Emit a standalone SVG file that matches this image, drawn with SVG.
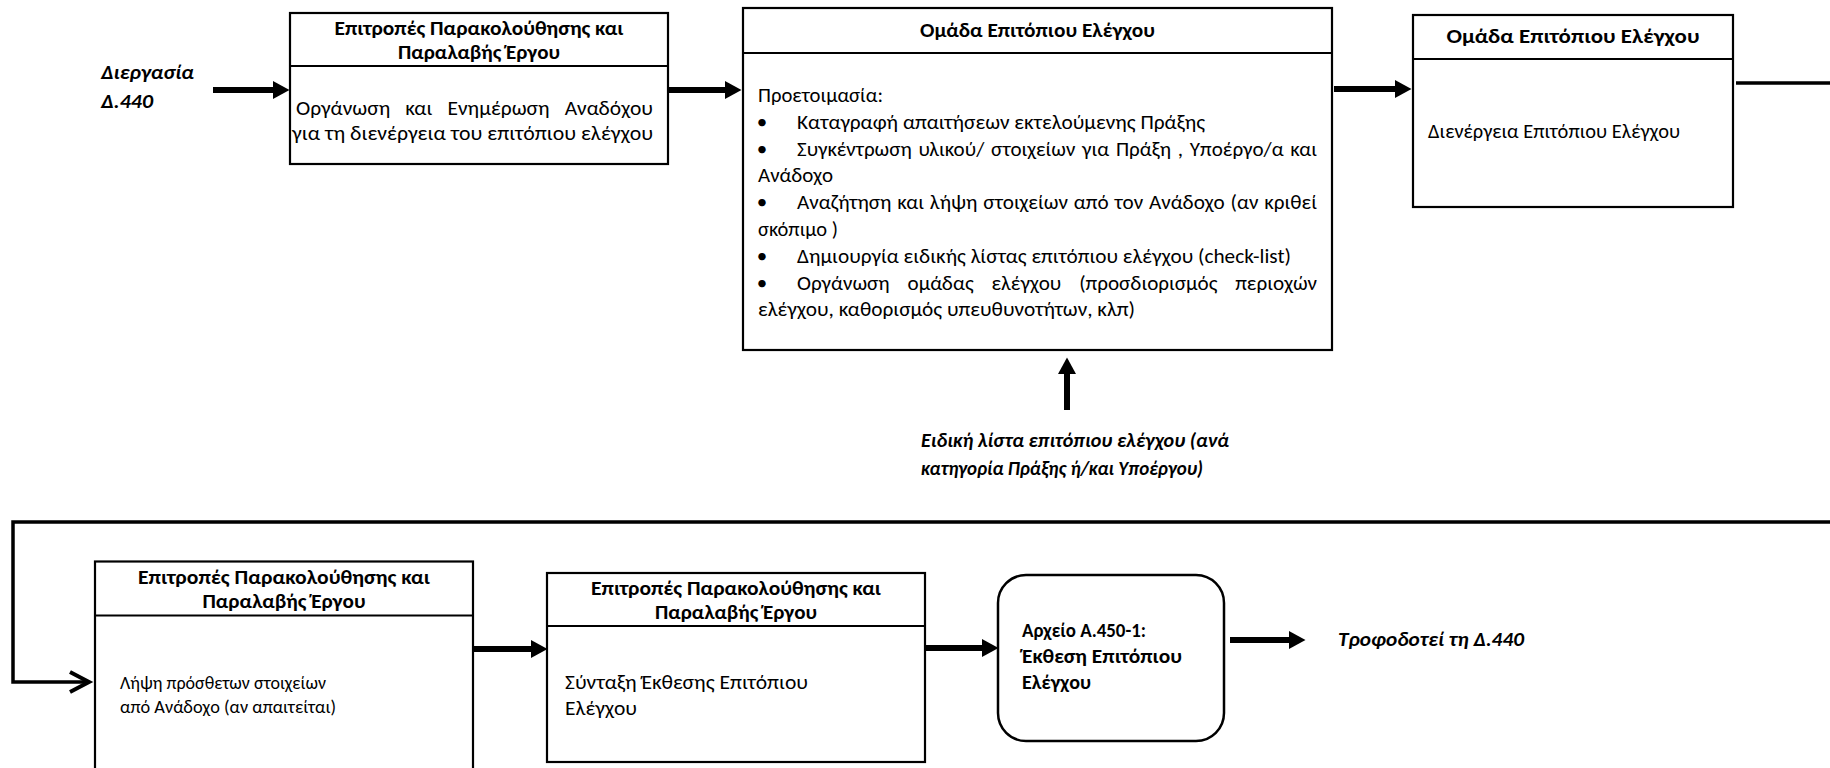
<svg xmlns="http://www.w3.org/2000/svg" width="1830" height="768" viewBox="0 0 1830 768">
  <style>
    text { font-family: Carlito, Calibri, Lato, "Noto Sans", sans-serif; fill: #000; }
    .t { font-size: 21px; font-weight: bold; text-anchor: middle; }
    .b { font-size: 21px; }
    .s { font-size: 18.5px; }
    .lbl { font-size: 21px; font-weight: bold; font-style: italic; }
    .arc { font-size: 21px; font-weight: bold; }
    .box { fill: #fff; stroke: #000; stroke-width: 2.2; }
    .div { stroke: #000; stroke-width: 2; }
    .shaft { fill: none; stroke: #000; stroke-width: 6; }
    .loop { fill: none; stroke: #000; stroke-width: 3.5; }
  </style>
  <defs>
    <marker id="head" markerUnits="userSpaceOnUse" markerWidth="17" markerHeight="18" refX="0" refY="9" orient="auto" overflow="visible">
      <path d="M0,0 L16.5,9 L0,18 Z" fill="#000"/>
    </marker>
  </defs>
  <rect width="1830" height="768" fill="#fff"/>

  <!-- connectors -->
  <g id="connectors">
    <line class="shaft" x1="213" y1="90" x2="273" y2="90" marker-end="url(#head)"/>
    <line class="shaft" x1="667" y1="90" x2="725" y2="90" marker-end="url(#head)"/>
    <line class="shaft" x1="1334" y1="89" x2="1395" y2="89" marker-end="url(#head)"/>
    <line class="shaft" x1="1067" y1="410" x2="1067" y2="374" marker-end="url(#head)"/>
    <path class="loop" d="M1736,83 H1850 V522 H13 V682 H88"/>
    <polyline points="70,672 89,682 70,692" fill="none" stroke="#000" stroke-width="4"/>
    <line class="shaft" x1="471" y1="649" x2="531" y2="649" marker-end="url(#head)"/>
    <line class="shaft" x1="924" y1="648" x2="982" y2="648" marker-end="url(#head)"/>
    <line class="shaft" x1="1230" y1="640" x2="1289" y2="640" marker-end="url(#head)"/>
  </g>

  <!-- input label -->
  <g id="input-d440">
    <text class="lbl" x="101" y="79" textLength="93" lengthAdjust="spacingAndGlyphs">Διεργασία</text>
    <text class="lbl" x="101" y="108" textLength="52" lengthAdjust="spacingAndGlyphs">Δ.440</text>
  </g>

  <!-- step 1 -->
  <g id="step-organise">
    <rect class="box" x="290" y="13" width="378" height="151"/>
    <line class="div" x1="290" y1="66" x2="668" y2="66"/>
    <text class="t" x="479" y="35" textLength="289" lengthAdjust="spacingAndGlyphs">Επιτροπές Παρακολούθησης και</text>
    <text class="t" x="479" y="59" textLength="162" lengthAdjust="spacingAndGlyphs">Παραλαβής Έργου</text>
    <text class="b" x="296" y="115" word-spacing="10" textLength="357" lengthAdjust="spacingAndGlyphs">Οργάνωση και Ενημέρωση Αναδόχου</text>
    <text class="b" x="292" y="140" textLength="361" lengthAdjust="spacingAndGlyphs">για τη διενέργεια του επιτόπιου ελέγχου</text>
  </g>

  <!-- step 2 -->
  <g id="step-prepare">
    <rect class="box" x="743" y="8" width="589" height="342"/>
    <line class="div" x1="743" y1="53" x2="1332" y2="53"/>
    <text class="t" x="1037.5" y="37" textLength="235" lengthAdjust="spacingAndGlyphs">Ομάδα Επιτόπιου Ελέγχου</text>
    <text class="b" x="758" y="102" textLength="125" lengthAdjust="spacingAndGlyphs">Προετοιμασία:</text>
    <text class="b" x="762" y="129" text-anchor="middle">•</text>
    <text class="b" x="797" y="129" textLength="408" lengthAdjust="spacingAndGlyphs">Καταγραφή απαιτήσεων εκτελούμενης Πράξης</text>
    <text class="b" x="762" y="156" text-anchor="middle">•</text>
    <text class="b" x="797" y="156" word-spacing="2" textLength="520" lengthAdjust="spacingAndGlyphs">Συγκέντρωση υλικού/ στοιχείων για Πράξη , Υποέργο/α και</text>
    <text class="b" x="758" y="182" textLength="75" lengthAdjust="spacingAndGlyphs">Ανάδοχο</text>
    <text class="b" x="762" y="209" text-anchor="middle">•</text>
    <text class="b" x="797" y="209" word-spacing="1" textLength="520" lengthAdjust="spacingAndGlyphs">Αναζήτηση και λήψη στοιχείων από τον Ανάδοχο (αν κριθεί</text>
    <text class="b" x="758" y="236" textLength="80" lengthAdjust="spacingAndGlyphs">σκόπιμο )</text>
    <text class="b" x="762" y="263" text-anchor="middle">•</text>
    <text class="b" x="797" y="263" textLength="494" lengthAdjust="spacingAndGlyphs">Δημιουργία ειδικής λίστας επιτόπιου ελέγχου (check-list)</text>
    <text class="b" x="762" y="290" text-anchor="middle">•</text>
    <text class="b" x="797" y="290" word-spacing="13" textLength="520" lengthAdjust="spacingAndGlyphs">Οργάνωση ομάδας ελέγχου (προσδιορισμός περιοχών</text>
    <text class="b" x="758" y="316" textLength="377" lengthAdjust="spacingAndGlyphs">ελέγχου, καθορισμός υπευθυνοτήτων, κλπ)</text>
  </g>

  <!-- special checklist input -->
  <g id="input-checklist">
    <text class="lbl" x="921" y="447" textLength="308" lengthAdjust="spacingAndGlyphs">Ειδική λίστα επιτόπιου ελέγχου (ανά</text>
    <text class="lbl" x="921" y="475" textLength="282" lengthAdjust="spacingAndGlyphs">κατηγορία Πράξης ή/και Υποέργου)</text>
  </g>

  <!-- step 3 -->
  <g id="step-perform">
    <rect class="box" x="1413" y="15" width="320" height="192"/>
    <line class="div" x1="1413" y1="59" x2="1733" y2="59"/>
    <text class="t" x="1573" y="43" textLength="253" lengthAdjust="spacingAndGlyphs">Ομάδα Επιτόπιου Ελέγχου</text>
    <text class="b" x="1428" y="138" textLength="252" lengthAdjust="spacingAndGlyphs">Διενέργεια Επιτόπιου Ελέγχου</text>
  </g>

  <!-- step 4 -->
  <g id="step-extra-data">
    <rect class="box" x="95" y="561.5" width="378" height="230"/>
    <line class="div" x1="95" y1="615.5" x2="473" y2="615.5"/>
    <text class="t" x="284" y="584" textLength="292" lengthAdjust="spacingAndGlyphs">Επιτροπές Παρακολούθησης και</text>
    <text class="t" x="284" y="608" textLength="163" lengthAdjust="spacingAndGlyphs">Παραλαβής Έργου</text>
    <text class="s" x="120" y="689" textLength="206" lengthAdjust="spacingAndGlyphs">Λήψη πρόσθετων στοιχείων</text>
    <text class="s" x="120" y="713" textLength="216" lengthAdjust="spacingAndGlyphs">από Ανάδοχο (αν απαιτείται)</text>
  </g>

  <!-- step 5 -->
  <g id="step-report">
    <rect class="box" x="547" y="573" width="378" height="189"/>
    <line class="div" x1="547" y1="626" x2="925" y2="626"/>
    <text class="t" x="736" y="595" textLength="290" lengthAdjust="spacingAndGlyphs">Επιτροπές Παρακολούθησης και</text>
    <text class="t" x="736" y="619" textLength="162" lengthAdjust="spacingAndGlyphs">Παραλαβής Έργου</text>
    <text class="b" x="565" y="689" textLength="243" lengthAdjust="spacingAndGlyphs">Σύνταξη Έκθεσης Επιτόπιου</text>
    <text class="b" x="565" y="715" textLength="72" lengthAdjust="spacingAndGlyphs">Ελέγχου</text>
  </g>

  <!-- output record -->
  <g id="record-a450-1">
    <rect class="box" x="998" y="575" width="226" height="166" rx="28" ry="28" style="stroke-width:2.5"/>
    <text class="arc" x="1022" y="637" textLength="124" lengthAdjust="spacingAndGlyphs">Αρχείο Α.450-1:</text>
    <text class="arc" x="1022" y="663" textLength="160" lengthAdjust="spacingAndGlyphs">Έκθεση Επιτόπιου</text>
    <text class="arc" x="1022" y="689" textLength="69" lengthAdjust="spacingAndGlyphs">Ελέγχου</text>
  </g>

  <!-- output label -->
  <g id="output-d440">
    <text class="lbl" x="1338" y="646" textLength="186" lengthAdjust="spacingAndGlyphs">Τροφοδοτεί τη Δ.440</text>
  </g>
</svg>
